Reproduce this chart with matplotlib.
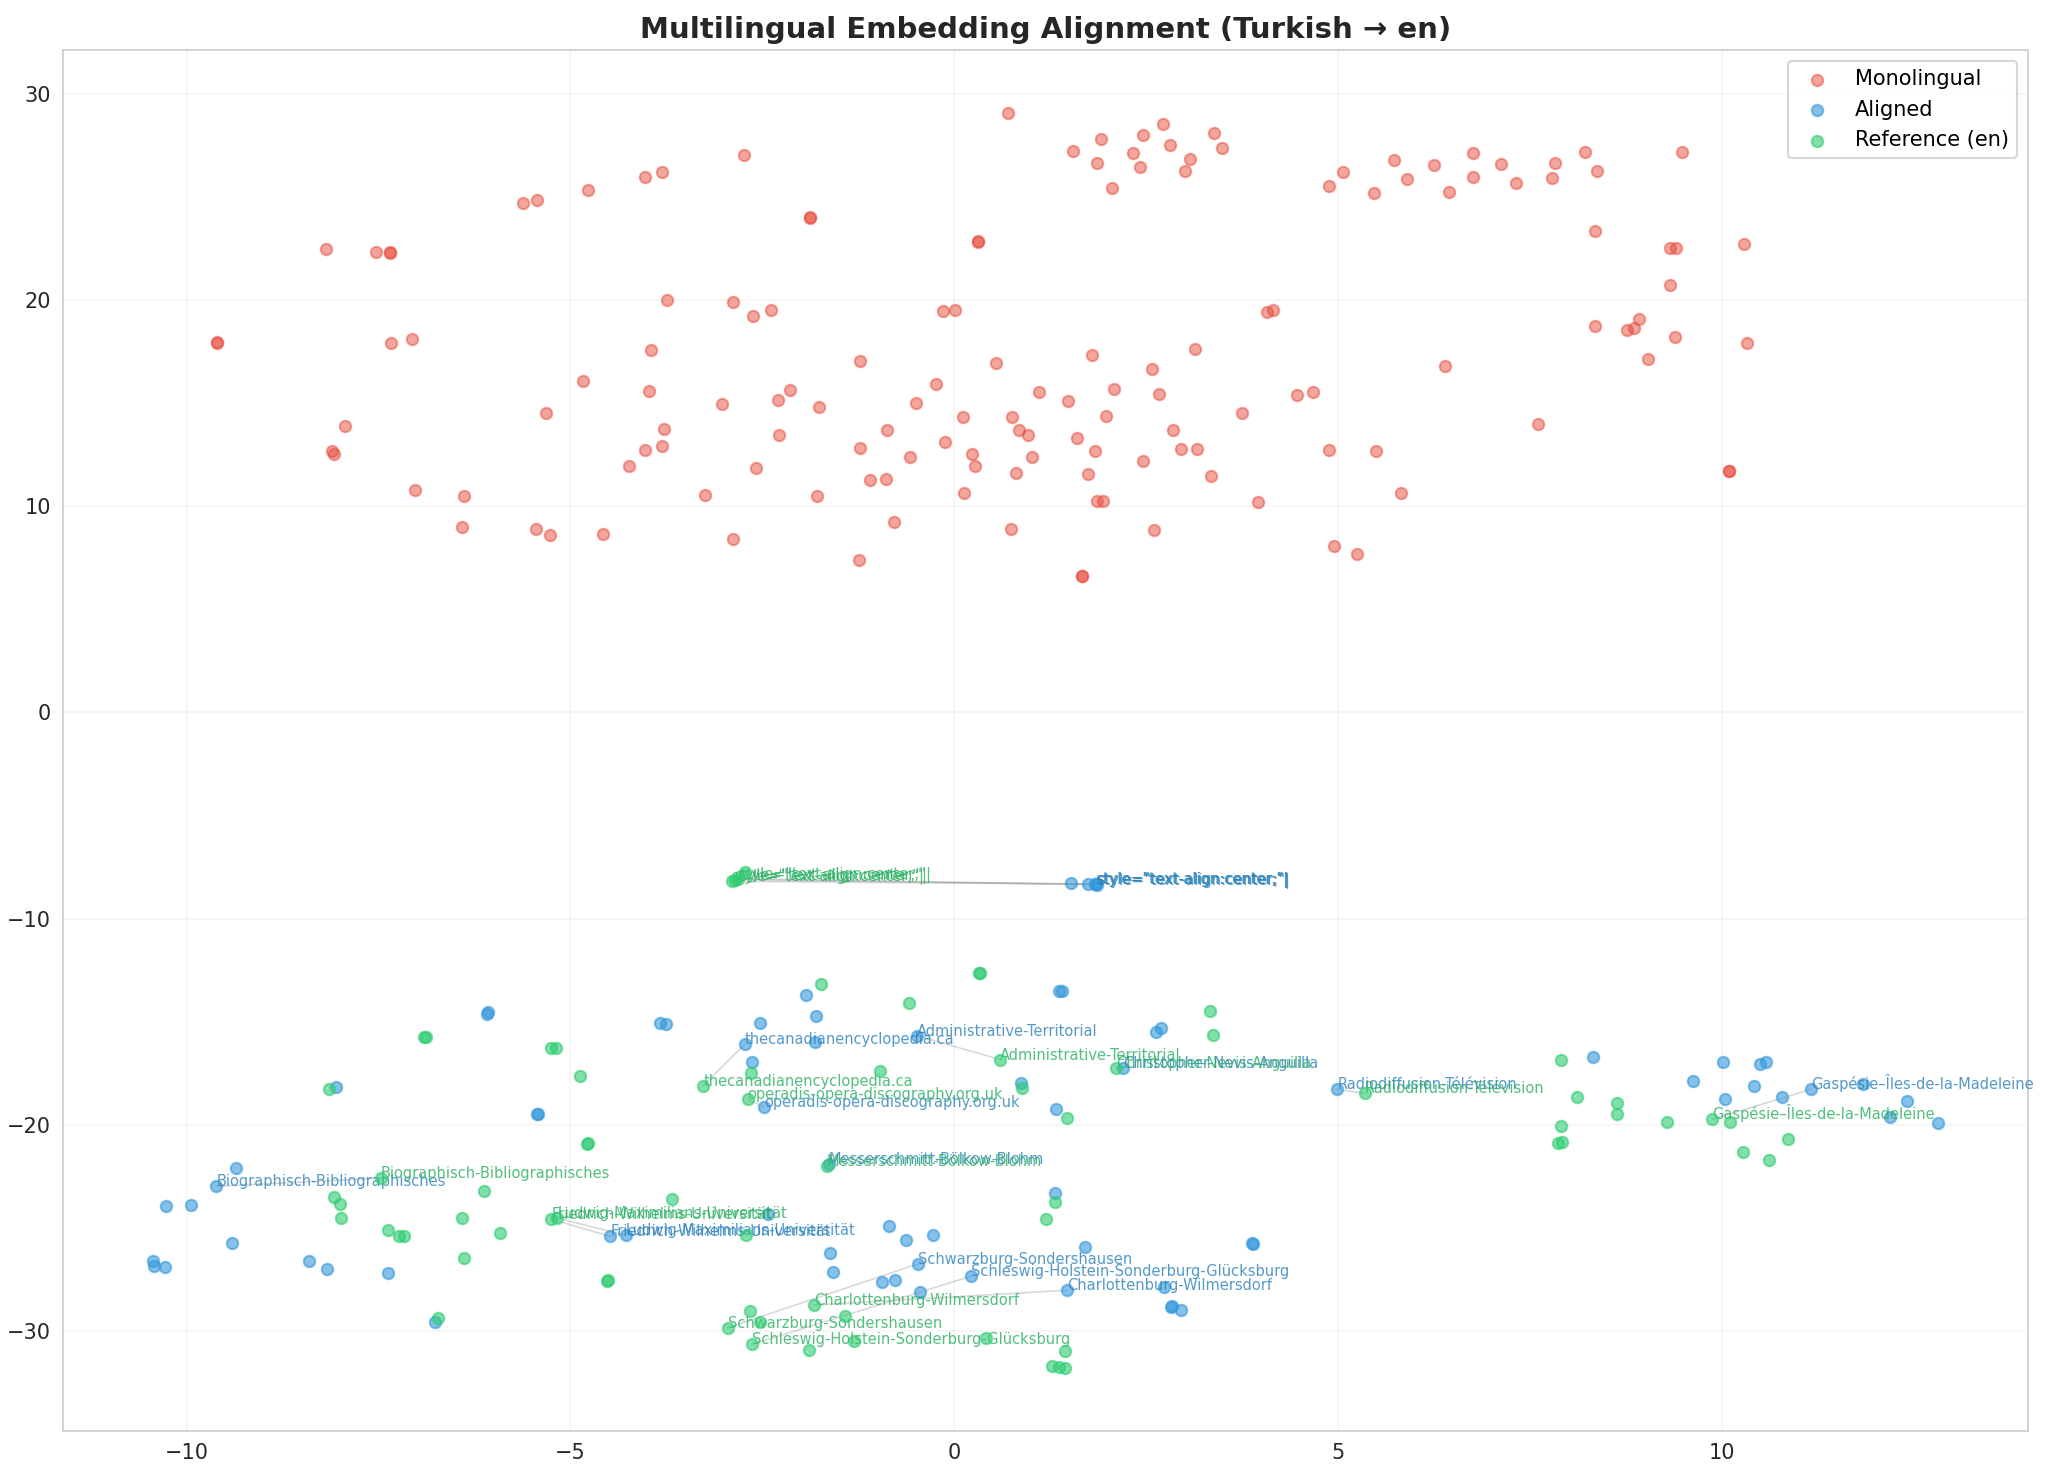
import matplotlib
matplotlib.use("Agg")
import matplotlib.pyplot as plt

# monolingual embeddings (red)
mono_x = [-2.74, -4.03, -3.80, -4.77, -5.62, -5.43, -8.18, -7.53, -7.35, -7.35, -3.74, -2.88, -2.62,
          -9.60, -9.60, -7.33, -7.06, -3.95, -4.84, -3.98, -3.03, -5.32, -7.94, -3.78, -8.10, -8.08,
          -4.03, -3.81, -4.24, -2.58, -7.03, -6.38, -3.25, -6.41, -5.45, -5.27, -4.57, -2.88,
          0.70, 1.55, 1.91, 1.86, 2.06, 2.33, 2.46, 2.42, 2.72, 2.81, 3.07, 3.01, 3.39, 3.49, 4.88,
          5.07, 5.47, -1.88, -1.88, 0.31, 0.31, -2.39, -0.15, 0.01, 4.08, 4.15,
          -1.23, 0.54, 1.80, 3.14, 2.58, -2.14, -2.30, -1.76, -0.24, -0.50, 1.11, 1.48, 2.08, 2.67,
          3.75, 4.47, 4.67, -2.28, -0.88, 0.11, 0.76, 0.84, 0.96, 1.98, 1.60, 2.85,
          -1.23, -0.12, -0.57, 0.23, 0.27, 1.01, 1.83, 2.95, 3.16, 2.46, 4.88, 5.49,
          -1.10, -0.89, 0.81, 1.75, 3.34, -1.79, 0.125, 1.86, 1.94, 3.96,
          -0.79, 0.74, 2.60, -1.24, 4.95, 5.25, 1.66, 1.66,
          5.73, 5.90, 6.25, 6.45, 6.76, 6.76, 7.13, 7.32, 7.83, 7.79, 8.22, 8.37, 9.48, 8.35,
          9.33, 9.41, 10.29, 9.33, 8.35, 8.77, 8.85, 8.92, 9.39, 10.33, 9.04, 6.39, 7.61, 5.82,
          10.10, 10.10]
mono_y = [27.04, 25.96, 26.22, 25.33, 24.71, 24.85, 22.48, 22.33, 22.29, 22.31, 19.98, 19.92, 19.21,
          17.93, 17.95, 17.93, 18.12, 17.56, 16.09, 15.56, 14.95, 14.50, 13.87, 13.72, 12.69, 12.51,
          12.71, 12.92, 11.93, 11.84, 10.77, 10.48, 10.53, 8.98, 8.88, 8.59, 8.64, 8.40,
          29.06, 27.22, 27.80, 26.64, 25.43, 27.14, 28.01, 26.45, 28.54, 27.53, 26.85, 26.27, 28.11, 27.38, 25.53,
          26.22, 25.19, 23.99, 24.01, 22.82, 22.84, 19.50, 19.45, 19.50, 19.40, 19.50,
          17.03, 16.92, 17.32, 17.61, 16.63, 15.61, 15.17, 14.80, 15.92, 15.00, 15.53, 15.08, 15.66, 15.43,
          14.51, 15.37, 15.53, 13.43, 13.69, 14.32, 14.32, 13.69, 13.43, 14.37, 13.29, 13.69,
          12.82, 13.11, 12.38, 12.53, 11.95, 12.38, 12.67, 12.77, 12.77, 12.19, 12.72, 12.67,
          11.27, 11.32, 11.59, 11.56, 11.46, 10.50, 10.63, 10.26, 10.26, 10.19,
          9.24, 8.88, 8.84, 7.38, 8.08, 7.69, 6.61, 6.63,
          26.80, 25.87, 26.56, 25.24, 27.11, 25.96, 26.61, 25.67, 26.66, 25.91, 27.19, 26.27, 27.19, 23.35,
          22.53, 22.53, 22.72, 20.74, 18.75, 18.56, 18.66, 19.09, 18.22, 17.93, 17.16, 16.82, 13.96, 10.62,
          11.69, 11.71]

# aligned embeddings (blue), unlabeled ones
aligned_x = [-6.08, -6.07, -3.83, -3.76, -8.05, -5.43, -5.42, -9.36, -10.27, -9.94, -9.41,
             -10.44, -10.43, -10.28, -8.41, -8.17, -7.37, -6.76,
             1.37, 1.41, -1.93, -1.80, -2.53, -1.81, 2.63, 2.70, -2.64, 0.87, 1.33, 1.32, -2.42,
             -0.85, -0.63, -0.28, 1.70, 3.89, 3.88, -1.62, -1.58, -0.94, -0.77, -0.45, 2.74,
             2.83, 2.84, 2.96,
             8.32, 9.63, 10.01, 10.50, 10.57, 10.42, 10.04, 10.78, 11.84, 12.41, 12.19, 12.82,
             1.52, 1.74]
aligned_y = [-14.61, -14.55, -15.06, -15.11, -18.19, -19.50, -19.47, -22.08, -23.96, -23.88, -25.75,
             -26.62, -26.83, -26.91, -26.62, -27.01, -27.20, -29.56,
             -13.51, -13.51, -13.69, -14.72, -15.05, -15.98, -15.50, -15.30, -16.98, -17.98, -19.26, -23.29, -24.34,
             -24.93, -25.61, -25.37, -25.95, -25.79, -25.76, -26.24, -27.16, -27.64, -27.54, -28.13, -27.88,
             -28.83, -28.77, -29.00,
             -16.71, -17.87, -16.98, -17.05, -16.98, -18.11, -18.77, -18.67, -18.05, -18.84, -19.61, -19.90,
             -8.29, -8.34]

# reference (en) embeddings (green), unlabeled ones
ref_x = [-6.90, -6.88, -5.25, -5.19, -4.87, -2.65, -8.14, -4.78, -4.77, -8.08, -8.00, -7.99,
         -6.13, -3.67, -6.41, -7.37, -7.23, -7.17, -5.92, -2.71, -6.38, -4.52, -4.51, -6.73,
         -2.66, -2.53,
         0.33, 0.34, -1.74, -0.59, 3.33, 3.37, -0.97, 0.89, 1.47, 1.32, 1.20, -1.42,
         -1.89, -1.31, 0.41, 1.44, 1.27, 1.37, 1.44,
         7.90, 8.11, 8.64, 8.64, 7.90, 7.87, 7.92, 9.29, 10.11, 10.86, 10.27, 10.61,
         -2.72]
ref_y = [-15.77, -15.74, -16.27, -16.27, -17.63, -17.51, -18.29, -20.92, -20.90, -23.53, -23.84, -24.54,
         -23.24, -23.61, -24.55, -25.12, -25.42, -25.42, -25.27, -25.34, -26.48, -27.56, -27.54, -29.37,
         -29.03, -29.58,
         -12.64, -12.62, -13.16, -14.10, -14.48, -15.63, -17.39, -18.21, -19.66, -23.77, -24.59, -29.27,
         -30.95, -30.50, -30.33, -30.98, -31.71, -31.75, -31.79,
         -16.84, -18.64, -18.96, -19.48, -20.05, -20.87, -20.82, -19.85, -19.85, -20.71, -21.34, -21.69,
         -7.73]

# annotated word pairs: aligned position and reference position
words = ['thecanadianencyclopedia.ca', 'Administrative-Territorial', 'Christopher-Nevis-Anguilla',
         'operadis-opera-discography.org.uk', 'Radiodiffusion-Télévision',
         'Gaspésie–Îles-de-la-Madeleine', 'Messerschmitt-Bölkow-Blohm',
         'Biographisch-Bibliographisches', 'Friedrich-Wilhelms-Universität',
         'Ludwig-Maximilians-Universität', 'Schwarzburg-Sondershausen',
         'Schleswig-Holstein-Sonderburg-Glücksburg', 'Charlottenburg-Wilmersdorf',
         'style="text-align:center;"|', 'style="text-align:center;"|', 'style="text-align:center;"|']
word_ax = [-2.73, -0.48, 2.20, -2.48, 4.99, 11.16, -1.63, -9.61, -4.48, -4.28, -0.47, 0.22, 1.47,
           1.84, 1.85, 1.86]
word_ay = [-16.11, -15.69, -17.27, -19.13, -18.29, -18.29, -21.92, -22.99, -25.42, -25.37, -26.75,
           -27.35, -28.03, -8.33, -8.34, -8.36]
word_rx = [-3.27, 0.60, 2.11, -2.69, 5.35, 9.87, -1.66, -7.47, -5.25, -5.17, -2.95, -2.64, -1.83,
           -2.90, -2.86, -2.81]
word_ry = [-18.11, -16.84, -17.24, -18.77, -18.48, -19.74, -21.98, -22.59, -24.58, -24.53, -29.85,
           -30.66, -28.75, -8.20, -8.12, -8.07]

plt.rcParams['font.family'] = 'DejaVu Sans'

fig = plt.figure(figsize=(2048 / 150, 1483 / 150), dpi=150)
ax = fig.add_axes([0.031, 0.0354, 0.959, 0.9306])

ax.scatter(mono_x, mono_y, s=30, color='#e74c3c', alpha=0.5, label='Monolingual', zorder=2)
ax.scatter(aligned_x + word_ax, aligned_y + word_ay, s=30, color='#3498db', alpha=0.6,
           label='Aligned', zorder=3)
ax.scatter(ref_x + word_rx, ref_y + word_ry, s=30, color='#2ecc71', alpha=0.6,
           label='Reference (en)', zorder=4)

for w, x1, y1, x2, y2 in zip(words, word_ax, word_ay, word_rx, word_ry):
    ax.plot([x1, x2], [y1, y2], color='gray', alpha=0.3, linewidth=0.8, zorder=1)
    ax.text(x1, y1, w, fontsize=7, color='#2980b9', alpha=0.8)
    ax.text(x2, y2, w, fontsize=7, color='#27ae60', alpha=0.8)

ax.set_title('Multilingual Embedding Alignment (Turkish → en)', fontsize=14, fontweight='bold',
             color='#262626')
ax.grid(True, color='#cccccc', alpha=0.2)
ax.set_axisbelow(True)
for sp in ax.spines.values():
    sp.set_color('#cccccc')
ax.tick_params(length=0, labelsize=10, labelcolor='#262626', pad=6)
leg = ax.legend(loc='upper right', fontsize=10, frameon=True)
leg.get_frame().set_edgecolor('#cccccc')

plt.savefig('out.png', dpi=150)
